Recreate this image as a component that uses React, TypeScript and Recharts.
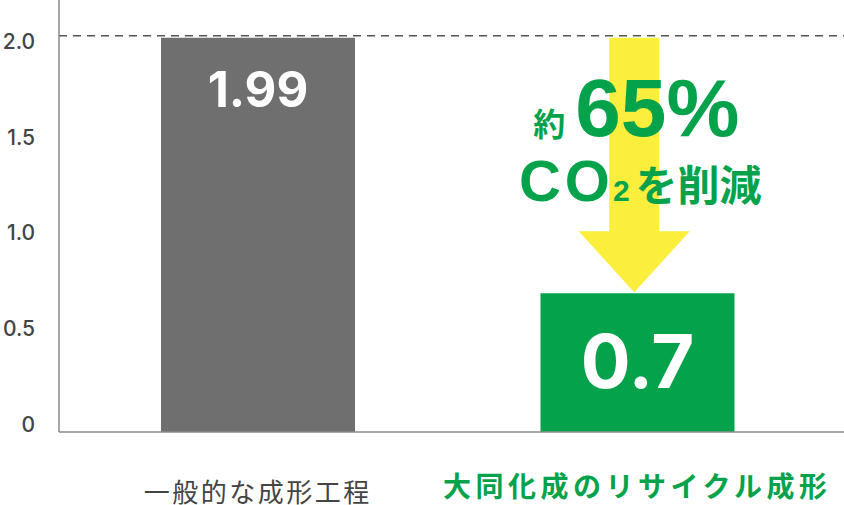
import { Bar, BarChart, Cell, LabelList, ReferenceArea, ReferenceLine, XAxis, YAxis } from 'recharts';

const categories = ['一般的な成形工程', '大同化成のリサイクル成形'];
const co2Values = [1.99, 0.7];
const yTicks = [0, 0.5, 1.0, 1.5, 2.0];
const baselineValue = 2.0;

const GREEN = '#04A34B';
const GRAY_BAR = '#6F6F6F';
const YELLOW = '#FBEE3C';
const JP = '"Noto Sans CJK JP", "Noto Sans", sans-serif';
const LATIN_BOLD = '"Liberation Sans", Arial, sans-serif';

const data = categories.map((name, i) => ({ name, value: co2Values[i] }));

// y tick labels sit slightly off the gridline in the original
function YTick({ x, y, payload }: any) {
  const v = payload.value as number;
  return (
    <text x={x} y={y} dy={-8 + 7 * v} textAnchor="end" dominantBaseline="central"
      fontSize={21} fontWeight={500} fontFamily="Inter, sans-serif" fill="#444">
      {v === 0 ? '0' : v.toFixed(1)}
    </text>
  );
}

function XTick({ x, y, index, payload }: any) {
  const ours = index === 1;
  return (
    <text x={x} y={y + (ours ? 53 : 58)} textAnchor="middle" dominantBaseline="central"
      fontSize={ours ? 28 : 26} fontWeight={ours ? 700 : 400}
      letterSpacing={ours ? 4.5 : 2.5} fontFamily={JP} fill={ours ? GREEN : '#444'}>
      {payload.value}
    </text>
  );
}

function ValueLabel({ x, y, width, value, index }: any) {
  const big = index === 1;
  return (
    <text x={x + width / 2} y={y + (big ? 95 : 69)} textAnchor="middle"
      fontSize={big ? 74 : 49} fontWeight={700} fontFamily="Inter, sans-serif" fill="#fff">
      {value}
    </text>
  );
}

function Arrow({ x, y, width, height }: any) {
  const cx = x + width / 2 - 3;
  const bottom = y + height - 1;
  const headTop = bottom - 61;
  const path = `M${cx - 25},${y + 2} L${cx + 25},${y + 2} L${cx + 25},${headTop} L${cx + 55.5},${headTop} L${cx},${bottom} L${cx - 55.5},${headTop} L${cx - 25},${headTop} Z`;
  return (
    <g>
      <path d={path} fill={YELLOW} />
      <text x={cx + 2} y={y + 100} textAnchor="middle" fill={GREEN} fontWeight={700}>
        <tspan fontSize={32} fontFamily={JP}>約</tspan>
        <tspan dx={10} fontSize={82} fontFamily={LATIN_BOLD}>65%</tspan>
      </text>
      <text x={cx + 6} y={y + 165} textAnchor="middle" fill={GREEN} fontWeight={700}>
        <tspan fontSize={58} letterSpacing={4} fontFamily={LATIN_BOLD}>CO</tspan>
        <tspan dx={-1} fontSize={30} fontFamily={LATIN_BOLD}>2</tspan>
        <tspan dx={6} fontSize={42} fontFamily={JP}>を削減</tspan>
      </text>
    </g>
  );
}

export default function App() {
  return (
    <div style={{ width: 844, height: 505, background: '#fff' }}>
      <style>{'body{margin:0}'}</style>
      <BarChart width={844} height={505} data={data} margin={{ top: 0, right: 0, bottom: 0, left: 0 }}>
        <YAxis
          width={59}
          domain={[0, 2.18]}
          ticks={yTicks}
          tickLine={false}
          tickSize={0}
          tickMargin={24}
          axisLine={{ stroke: '#8a8a8a', strokeWidth: 1.5 }}
          tick={<YTick />}
          interval={0}
        />
        <XAxis
          dataKey="name"
          height={73}
          padding={{ left: 9, right: 17 }}
          tickLine={false}
          tickSize={0}
          tickMargin={0}
          axisLine={{ stroke: '#8a8a8a', strokeWidth: 1.5 }}
          tick={<XTick />}
          interval={0}
        />
        <Bar dataKey="value" barSize={194} isAnimationActive={false}>
          {data.map((d, i) => (
            <Cell key={d.name} fill={i === 0 ? GRAY_BAR : GREEN} />
          ))}
          <LabelList dataKey="value" content={<ValueLabel />} />
        </Bar>
        <ReferenceArea
          x1={categories[1]}
          x2={categories[1]}
          y1={co2Values[1]}
          y2={baselineValue}
          shape={<Arrow />}
          ifOverflow="visible"
        />
        <ReferenceLine y={baselineValue} stroke="#555" strokeWidth={1.5} strokeDasharray="8 6" />
      </BarChart>
    </div>
  );
}
